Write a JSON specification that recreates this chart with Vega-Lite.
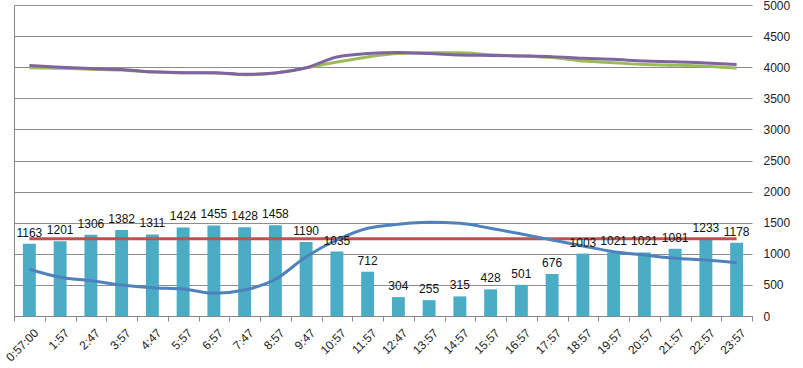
{
  "$schema": "https://vega.github.io/schema/vega-lite/v6.json",
  "width": 738,
  "height": 311,
  "autosize": {"type": "none"},
  "padding": {"left": 14, "top": 5, "right": 51, "bottom": 52},
  "background": "white",
  "config": {"view": {"stroke": null}, "font": "Liberation Sans"},
  "data": {
    "values": [
      {"t": "0:57:00", "count": 1163, "blue": 751, "red": 1240, "green": 3990, "purple": 4027},
      {"t": "1:57", "count": 1201, "blue": 622, "red": 1240, "green": 3982, "purple": 4000},
      {"t": "2:47", "count": 1306, "blue": 567, "red": 1240, "green": 3968, "purple": 3978},
      {"t": "3:57", "count": 1382, "blue": 498, "red": 1240, "green": 3955, "purple": 3962},
      {"t": "4:47", "count": 1311, "blue": 455, "red": 1240, "green": 3922, "purple": 3925},
      {"t": "5:57", "count": 1424, "blue": 434, "red": 1240, "green": 3910, "purple": 3912},
      {"t": "6:57", "count": 1455, "blue": 365, "red": 1240, "green": 3908, "purple": 3912},
      {"t": "7:47", "count": 1428, "blue": 418, "red": 1240, "green": 3880, "purple": 3885},
      {"t": "8:57", "count": 1458, "blue": 590, "red": 1240, "green": 3905, "purple": 3907},
      {"t": "9:47", "count": 1190, "blue": 954, "red": 1240, "green": 3989, "purple": 3990},
      {"t": "10:57", "count": 1035, "blue": 1222, "red": 1240, "green": 4082, "purple": 4165},
      {"t": "11:57", "count": 712, "blue": 1410, "red": 1240, "green": 4165, "purple": 4220},
      {"t": "12:47", "count": 304, "blue": 1474, "red": 1240, "green": 4220, "purple": 4236},
      {"t": "13:57", "count": 255, "blue": 1506, "red": 1240, "green": 4231, "purple": 4220},
      {"t": "14:57", "count": 315, "blue": 1490, "red": 1240, "green": 4231, "purple": 4198},
      {"t": "15:57", "count": 428, "blue": 1410, "red": 1240, "green": 4200, "purple": 4190},
      {"t": "16:57", "count": 501, "blue": 1318, "red": 1240, "green": 4181, "purple": 4181},
      {"t": "17:57", "count": 676, "blue": 1222, "red": 1240, "green": 4154, "purple": 4170},
      {"t": "18:57", "count": 1003, "blue": 1125, "red": 1240, "green": 4099, "purple": 4143},
      {"t": "19:57", "count": 1021, "blue": 1034, "red": 1240, "green": 4072, "purple": 4127},
      {"t": "20:57", "count": 1021, "blue": 981, "red": 1240, "green": 4044, "purple": 4099},
      {"t": "21:57", "count": 1081, "blue": 928, "red": 1240, "green": 4033, "purple": 4088},
      {"t": "22:57", "count": 1233, "blue": 900, "red": 1240, "green": 4017, "purple": 4066},
      {"t": "23:57", "count": 1178, "blue": 857, "red": 1240, "green": 3989, "purple": 4044}
    ]
  },
  "encoding": {
    "x": {
      "field": "t",
      "type": "nominal",
      "sort": null,
      "scale": {"paddingInner": 0, "paddingOuter": 0},
      "axis": {
        "title": null,
        "tickBand": "extent",
        "labelAngle": -45,
        "labelFontSize": 12,
        "labelColor": "#222",
        "labelPadding": 6,
        "labelOffset": 3,
        "tickSize": 5,
        "tickColor": "#888",
        "domainColor": "#888",
        "grid": false
      }
    }
  },
  "layer": [
    {
      "mark": {"type": "bar", "width": {"band": 0.42}, "color": "#4BACC6"},
      "encoding": {
        "y": {
          "field": "count",
          "type": "quantitative",
          "scale": {"domain": [0, 5000], "nice": false},
          "axis": {
            "orient": "right",
            "title": null,
            "format": "d",
            "values": [0, 500, 1000, 1500, 2000, 2500, 3000, 3500, 4000, 4500, 5000],
            "grid": true,
            "gridColor": "#8c8c8c",
            "domain": false,
            "ticks": false,
            "labelPadding": 11,
            "labelFontSize": 12,
            "labelColor": "#222"
          }
        }
      }
    },
    {
      "mark": {"type": "line", "color": "#C0504D", "strokeWidth": 3},
      "encoding": {
        "y": {
          "field": "red",
          "type": "quantitative",
          "axis": {"orient": "left", "title": null, "labels": false, "ticks": false, "grid": false, "domain": true, "domainColor": "#888"}
        }
      }
    },
    {
      "mark": {"type": "line", "color": "#4F81BD", "strokeWidth": 3, "interpolate": "monotone"},
      "encoding": {"y": {"field": "blue", "type": "quantitative", "axis": null}}
    },
    {
      "mark": {"type": "line", "color": "#9BBB59", "strokeWidth": 3, "interpolate": "monotone"},
      "encoding": {"y": {"field": "green", "type": "quantitative", "axis": null}}
    },
    {
      "mark": {"type": "line", "color": "#8064A2", "strokeWidth": 3, "interpolate": "monotone"},
      "encoding": {"y": {"field": "purple", "type": "quantitative", "axis": null}}
    },
    {
      "mark": {"type": "text", "fontSize": 12, "color": "#111", "baseline": "alphabetic", "dy": -7},
      "encoding": {
        "y": {"field": "count", "type": "quantitative", "axis": null},
        "text": {"field": "count", "type": "quantitative", "format": "d"}
      }
    }
  ],
  "resolve": {"axis": {"y": "independent"}}
}
